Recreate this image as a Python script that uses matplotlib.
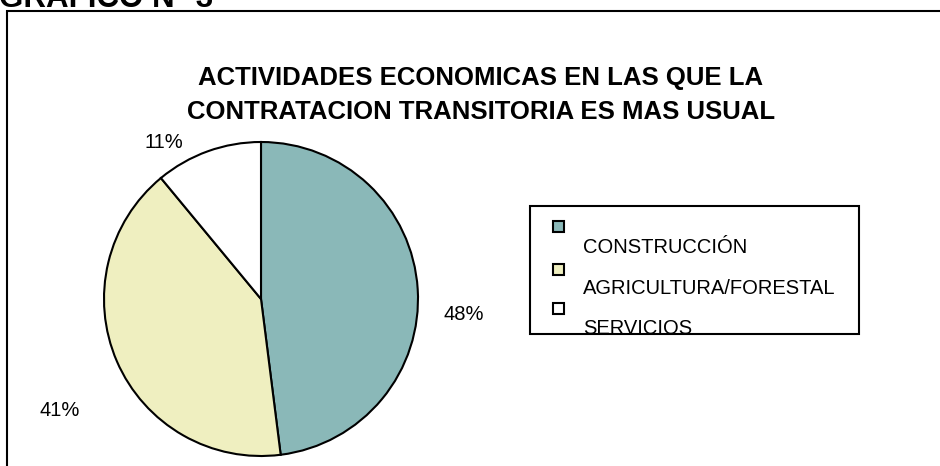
import matplotlib
matplotlib.use("Agg")
import matplotlib.pyplot as plt
from matplotlib.patches import Rectangle

plt.rcParams['font.family'] = ['Liberation Sans', 'DejaVu Sans']

categories = ["CONSTRUCCIÓN", "AGRICULTURA/FORESTAL", "SERVICIOS"]
values = [48, 41, 11]
colors = ["#8AB8B8", "#EFEFC0", "#FFFFFF"]
pct_labels = ["48%", "41%", "11%"]
title = "ACTIVIDADES ECONOMICAS EN LAS QUE LA\nCONTRATACION TRANSITORIA ES MAS USUAL"
header = "GRAFICO N° 3"

W, H = 940, 466
fig = plt.figure(figsize=(W / 100, H / 100), dpi=100)

def fx(px):
    return px / W

def fy(py):
    return 1 - py / H

# outer frame (extends beyond the image on the right/bottom)
fig.add_artist(Rectangle((fx(7), fy(480)), fx(960), fy(11) - fy(480), fill=False,
                         edgecolor="black", linewidth=1.5, transform=fig.transFigure,
                         clip_on=False))

fig.text(fx(-1), fy(7), header, fontsize=22.5, fontweight="bold", ha="left", va="baseline")
fig.text(fx(481), fy(95), title, fontsize=18.5, fontweight="bold", ha="center", va="center",
         linespacing=1.5)

# pie
cx, cy, r = 261, 299, 157
ax = fig.add_axes([fx(cx - r), fy(cy + r), fx(2 * r), fy(cy - r) - fy(cy + r)])
ax.pie(values, colors=colors, startangle=90, counterclock=False,
       wedgeprops=dict(edgecolor="black", linewidth=1.5))
ax.set_xlim(-1, 1)
ax.set_ylim(-1, 1)
ax.set_aspect("auto")
ax.axis("off")

label_pos = [(1.29, -0.10), (-1.28, -0.71), (-0.62, 1.00)]
for (lx, ly), t in zip(label_pos, pct_labels):
    ax.text(lx, ly, t, fontsize=14.5, ha="center", va="center", clip_on=False)

# legend (drawn manually to reproduce the offset layout)
fig.add_artist(Rectangle((fx(530), fy(334)), fx(859 - 530), fy(206) - fy(334), fill=False,
                         edgecolor="black", linewidth=1.5, transform=fig.transFigure))
marker_y = [226.5, 269, 308]
text_y = [247, 288, 328]
for c, name, my, ty in zip(colors, categories, marker_y, text_y):
    fig.add_artist(Rectangle((fx(553), fy(my + 5.5)), fx(11), fy(my - 5.5) - fy(my + 5.5),
                             facecolor=c, edgecolor="black", linewidth=1.5,
                             transform=fig.transFigure))
    fig.text(fx(583), fy(ty), name, fontsize=14.5, ha="left", va="center")

fig.savefig("out.png", dpi=100)
